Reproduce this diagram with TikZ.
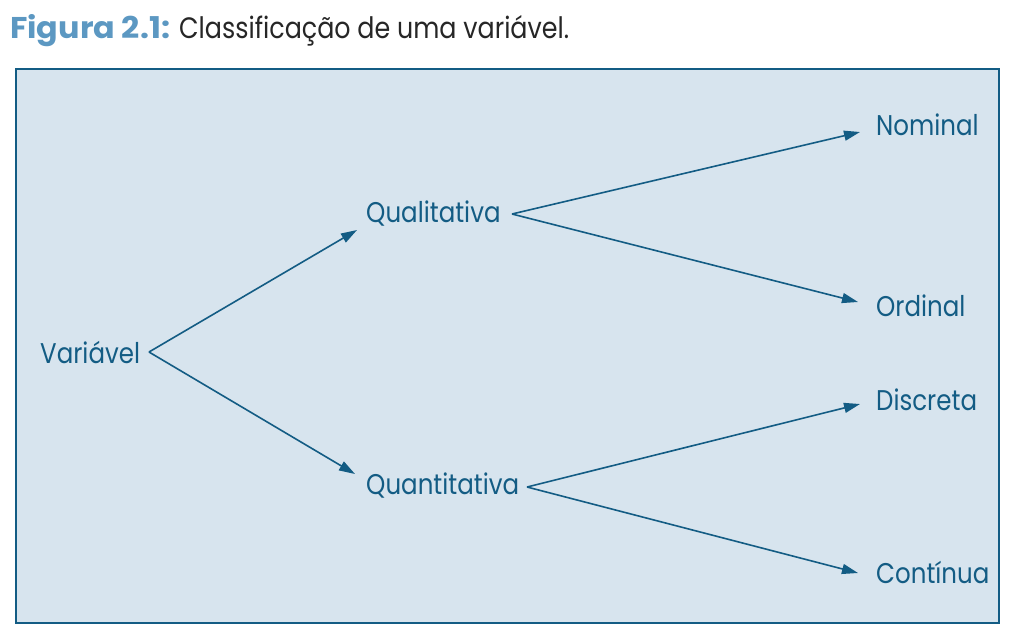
\documentclass[tikz,border=0pt]{standalone}
\usepackage{fontspec}
\setmainfont[FakeStretch=0.86]{Poppins}
\newfontfamily\ttlbold[FakeStretch=1.06]{Poppins}
\usetikzlibrary{arrows.meta}
\definecolor{dblue}{HTML}{135C84}
\definecolor{lblue}{HTML}{5C98C2}
\definecolor{boxfill}{HTML}{D7E4EE}
\tikzset{
  lbl/.style={anchor=base west, inner sep=0pt, text=dblue, font=\fontsize{28.5}{28.5}\selectfont},
  conn/.style={draw=dblue, line width=1.6pt, -{Triangle[length=16pt,width=10pt]}}
}
\begin{document}
\begin{tikzpicture}[x=1pt,y=-1pt]
\useasboundingbox (0,0) rectangle (1012,638);
\node[anchor=base west, inner sep=0pt, font=\fontsize{29.5}{29.5}\selectfont] (title) at (10,38)
  {\textcolor{lblue}{\ttlbold\fontsize{30}{30}\selectfont\bfseries Figura 2.1:} \textcolor{black!85}{Classificação de uma variável.}};
\draw[draw=dblue, fill=boxfill, line width=2pt] (16,69) rectangle (999,623);
\node[lbl] (var) at (40,363) {Variável};
\node[lbl] (qual) at (366,222) {Qualitativa};
\node[lbl] (quan) at (366,494) {Quantitativa};
\node[lbl] (nom) at (876,135) {Nominal};
\node[lbl] (ord) at (876,316) {Ordinal};
\node[lbl] (dis) at (876,410) {Discreta};
\node[lbl] (con) at (876,583) {Contínua};
\coordinate (v0) at (149,352);
\coordinate (q1) at (512,214);
\coordinate (q2) at (527,487);
\coordinate (e1) at (357,230);
\coordinate (e2) at (355,474);
\coordinate (e3) at (860,132);
\coordinate (e4) at (858,302);
\coordinate (e5) at (860,404);
\coordinate (e6) at (858,573);
\draw[conn] (v0) -- (e1);
\draw[conn] (v0) -- (e2);
\draw[conn] (q1) -- (e3);
\draw[conn] (q1) -- (e4);
\draw[conn] (q2) -- (e5);
\draw[conn] (q2) -- (e6);
\end{tikzpicture}
\end{document}
